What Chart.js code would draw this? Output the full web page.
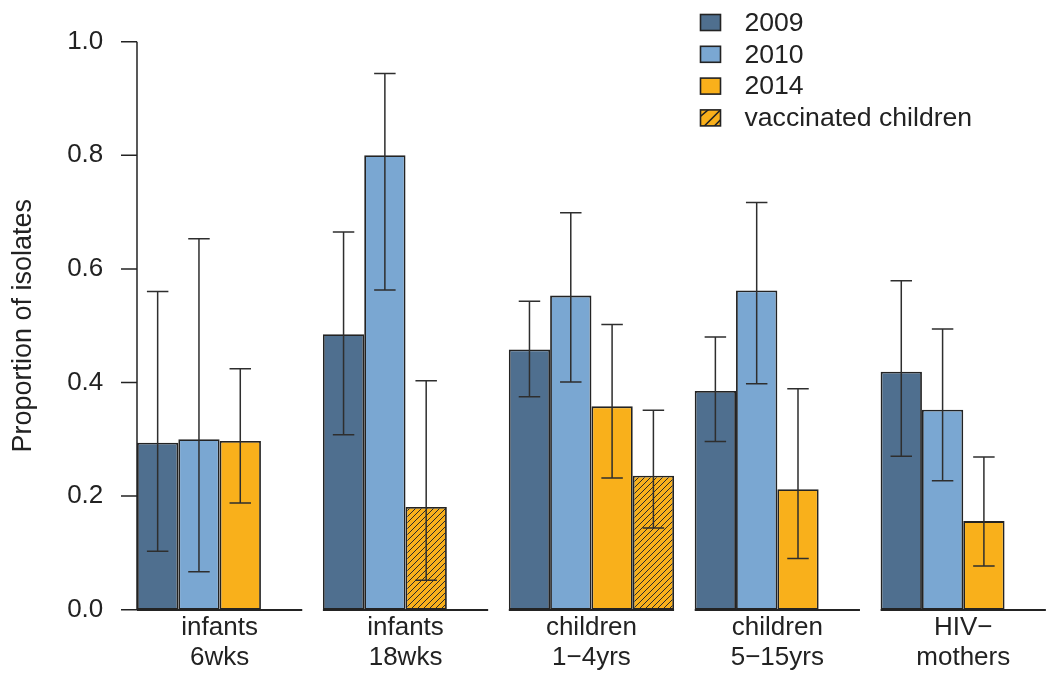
<!DOCTYPE html>
<html>
<head>
<meta charset="utf-8">
<script src="https://cdn.jsdelivr.net/npm/chart.js@4/dist/chart.umd.min.js"></script>
<style>
  html, body { margin: 0; padding: 0; background: #fff; overflow: hidden; width: 1046px; height: 675px; }
  #wrap { position: relative; width: 1046px; height: 675px; overflow: hidden; }
  canvas { display: block; }
</style>
</head>
<body>
<div id="wrap"><canvas id="c" width="1060" height="675"></canvas></div>
<script>
// ---- data ----
const categories = [['infants', '6wks'], ['infants', '18wks'], ['children', '1−4yrs'], ['children', '5−15yrs'], ['HIV−', 'mothers']];
const seriesLabels = ['2009', '2010', '2014', 'vaccinated children'];
const v2009 = [0.294, 0.485, 0.458, 0.385, 0.419];
const v2010 = [0.300, 0.800, 0.553, 0.562, 0.352];
const v2014 = [0.297, 0.181, 0.358, 0.212, 0.156];
const vVacc = [null, null, 0.236, null, null];
const lo2009 = [0.103, 0.308, 0.375, 0.296, 0.270];
const hi2009 = [0.560, 0.665, 0.543, 0.480, 0.579];
const lo2010 = [0.067, 0.563, 0.401, 0.398, 0.227];
const hi2010 = [0.653, 0.944, 0.699, 0.717, 0.494];
const lo2014 = [0.188, 0.052, 0.232, 0.090, 0.077];
const hi2014 = [0.424, 0.403, 0.502, 0.389, 0.269];
const loVacc = [null, null, 0.144, null, null];
const hiVacc = [null, null, 0.351, null, null];
const vaccinatedIn2014 = [false, true, false, false, false];
const yTicks = [0, 0.2, 0.4, 0.6, 0.8, 1.0];

// ---- styles ----
const C2009 = '#4f6f8f', C2010 = '#7aa7d2', C2014 = '#f9b01b';
const EDGE = '#232323';
const FONT = '"Liberation Sans", Arial, Helvetica, sans-serif';
const TXT = '#222222';
const SLOTS = 4, GAP = 0.5;
const catPct = SLOTS / (SLOTS + GAP);

function hatchPattern(ctx, bg, period, lw) {
  const p = document.createElement('canvas');
  p.width = period; p.height = period;
  const g = p.getContext('2d');
  g.fillStyle = bg; g.fillRect(0, 0, period, period);
  g.strokeStyle = '#2a2a2a'; g.lineWidth = lw; g.lineCap = 'square';
  g.beginPath();
  g.moveTo(-1, period + 1); g.lineTo(period + 1, -1);
  g.moveTo(-1, 1); g.lineTo(1, -1);
  g.moveTo(period - 1, period + 1); g.lineTo(period + 1, period - 1);
  g.stroke();
  return ctx.createPattern(p, 'repeat');
}

const canvas = document.getElementById('c');
const ctx0 = canvas.getContext('2d');
const hatch = hatchPattern(ctx0, C2014, 6, 1);

const errors = [[lo2009, hi2009], [lo2010, hi2010], [lo2014, hi2014], [loVacc, hiVacc]];

const errorBarPlugin = {
  id: 'errbars',
  afterDatasetsDraw(chart) {
    const ctx = chart.ctx, y = chart.scales.y, x = chart.scales.x;
    ctx.save();
    // group baselines
    const catW = x.width / categories.length;
    const grpW = catW * catPct;
    ctx.strokeStyle = EDGE; ctx.lineWidth = 2;
    categories.forEach((c, i) => {
      const cx = x.getPixelForValue(i);
      const y0 = Math.round(y.getPixelForValue(0));
      ctx.beginPath(); ctx.moveTo(cx - grpW / 2, y0); ctx.lineTo(cx + grpW / 2, y0); ctx.stroke();
    });
    // error bars
    ctx.strokeStyle = '#2e2e2e'; ctx.lineWidth = 1.5;
    chart.data.datasets.forEach((ds, di) => {
      const meta = chart.getDatasetMeta(di);
      const [lo, hi] = errors[di];
      meta.data.forEach((el, j) => {
        if (lo[j] == null || hi[j] == null) return;
        const px = el.x;
        const cap = el.width * 0.26;
        const yl = y.getPixelForValue(lo[j]), yh = y.getPixelForValue(hi[j]);
        ctx.beginPath();
        ctx.moveTo(px, yl); ctx.lineTo(px, yh);
        ctx.moveTo(px - cap, yl); ctx.lineTo(px + cap, yl);
        ctx.moveTo(px - cap, yh); ctx.lineTo(px + cap, yh);
        ctx.stroke();
      });
    });
    // y axis line and tick marks
    const axisX = x.getPixelForValue(0) - grpW / 2;
    ctx.strokeStyle = EDGE; ctx.lineWidth = 1.5;
    ctx.beginPath();
    ctx.moveTo(axisX, y.getPixelForValue(yTicks[0]));
    ctx.lineTo(axisX, y.getPixelForValue(yTicks[yTicks.length - 1]));
    yTicks.forEach(t => {
      const py = y.getPixelForValue(t);
      ctx.moveTo(axisX - 16, py); ctx.lineTo(axisX, py);
    });
    ctx.stroke();
    ctx.restore();
  }
};

const legendPlugin = {
  id: 'rlegend',
  afterDraw(chart) {
    const ctx = chart.ctx;
    ctx.save();
    const bx = 700.5, bw = 20, bh = 16, top0 = 14.5, step = 31.8, tx = 744.5;
    ctx.font = '26.6px ' + FONT;
    ctx.textBaseline = 'middle';
    ctx.fillStyle = TXT;
    seriesLabels.forEach((lab, i) => {
      const ty = top0 + i * step;
      let fill;
      if (i === 0) fill = C2009; else if (i === 1) fill = C2010; else fill = C2014;
      ctx.fillStyle = fill;
      ctx.fillRect(bx, ty, bw, bh);
      if (i === 3) {
        ctx.save();
        ctx.beginPath(); ctx.rect(bx, ty, bw, bh); ctx.clip();
        ctx.strokeStyle = '#222'; ctx.lineWidth = 1.5;
        ctx.beginPath();
        ctx.moveTo(bx - 2, ty + bh + 2 - 10); ctx.lineTo(bx + 10, ty - 2);
        ctx.moveTo(bx + 2, ty + bh + 2); ctx.lineTo(bx + bw + 2, ty - 2);
        ctx.moveTo(bx + 12, ty + bh + 2); ctx.lineTo(bx + bw + 12, ty - 2);
        ctx.stroke();
        ctx.restore();
      }
      ctx.strokeStyle = EDGE; ctx.lineWidth = 1.6;
      ctx.strokeRect(bx, ty, bw, bh);
      ctx.fillStyle = TXT;
      ctx.fillText(lab, tx, ty + bh / 2 + 1);
    });
    ctx.restore();
  }
};

const chart = new Chart(canvas, {
  type: 'bar',
  data: {
    labels: categories,
    datasets: [
      { label: seriesLabels[0], data: v2009, backgroundColor: C2009 },
      { label: seriesLabels[1], data: v2010, backgroundColor: C2010 },
      { label: seriesLabels[2], data: v2014, backgroundColor: v2014.map((v, i) => vaccinatedIn2014[i] ? hatch : C2014) },
      { label: seriesLabels[3], data: vVacc, backgroundColor: hatch }
    ]
  },
  options: {
    responsive: false,
    animation: false,
    devicePixelRatio: 1,
    datasets: {
      bar: {
        categoryPercentage: catPct,
        barPercentage: 1.0,
        borderColor: EDGE,
        borderWidth: 1.8,
        borderSkipped: false
      }
    },
    layout: { padding: { top: 41.7, right: 3.8, bottom: 0, left: 0 } },
    plugins: { legend: { display: false }, tooltip: { enabled: false } },
    scales: {
      x: {
        grid: { display: false, drawTicks: false },
        border: { display: false },
        ticks: {
          color: TXT,
          font: { family: FONT, size: 26, lineHeight: 1.16 },
          padding: 3,
          maxRotation: 0,
          autoSkip: false
        },
        afterFit(s) { s.height = 65.3; }
      },
      y: {
        min: 0, max: 1,
        grid: { display: false, drawTicks: false },
        border: { display: false },
        ticks: {
          stepSize: 0.2,
          color: TXT,
          padding: 23.4,
          font: { family: FONT, size: 26 },
          callback: v => Number(v).toFixed(1)
        },
        title: {
          display: true,
          text: 'Proportion of isolates',
          color: TXT,
          font: { family: FONT, size: 27, lineHeight: 1.2 },
          padding: { top: 7.5, bottom: 0 }
        },
        afterFit(s) { s.width = 126.67; }
      }
    }
  },
  plugins: [errorBarPlugin, legendPlugin]
});
</script>
</body>
</html>
